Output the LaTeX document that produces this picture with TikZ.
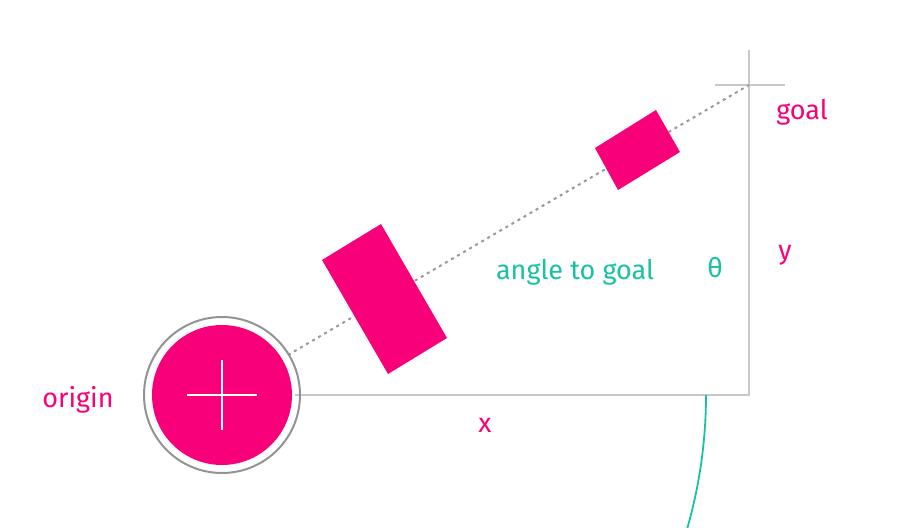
\documentclass[tikz,border=0pt]{standalone}
\usepackage{fontspec}
\setmainfont{Fira Sans}
\definecolor{mag}{HTML}{F7007A}
\definecolor{tealc}{HTML}{17C1A2}
\definecolor{lgray}{HTML}{C8C8C8}
\begin{document}
\begin{tikzpicture}[x=1pt,y=-1pt,
  lbl/.style={font=\fontsize{27}{30}\selectfont,text=mag},
  guide/.style={draw=lgray,line width=1.6pt}]
\useasboundingbox (0,0) rectangle (920,527);
% guides
\coordinate (o) at (222,395);
\coordinate (corner) at (749,395);
\coordinate (g) at (749,85);
\draw[guide] (295,395) -- (corner) -- (749,50);
\draw[guide] (715,85) -- (785,85);
% dotted line
\draw[gray!80,line width=2pt,dash pattern=on 3pt off 4pt] (288,355) -- (g);
% rectangles
\fill[mag] (322,260) -- (381,224) -- (447,338) -- (388,374) -- cycle;
\fill[mag] (595,148) -- (656,110) -- (680,152) -- (618,190) -- cycle;
% origin
\draw[gray!85,line width=2pt] (o) circle (78);
\fill[mag] (o) circle (70);
\draw[white,line width=2pt] (187,395) -- (257,395) (222,360) -- (222,430);
% angle arc
\draw[tealc,line width=1.8pt] (706,395) arc[start angle=0,end angle=27,radius=484];
% labels
\node[lbl] (orig) at (78,400) {origin};
\node[lbl] (xl) at (485,425) {x};
\node[lbl] (yl) at (785,255) {y};
\node[lbl] (gl) at (802,112) {goal};
\node[lbl,text=tealc] (ang) at (575,272) {angle to goal};
\node[lbl,text=tealc] (th) at (715,268) {θ};
\end{tikzpicture}
\end{document}
